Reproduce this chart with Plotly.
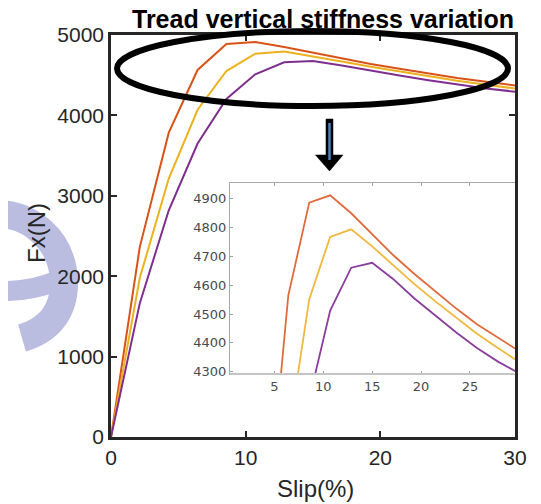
import plotly.graph_objects as go

# ---- data ----
slip = [0, 2.14, 4.29, 6.43, 8.57, 10.71, 12.86, 15, 17.14, 19.29, 21.43, 23.57, 25.71, 27.86, 30]
fx_orange = [0, 2365, 3785, 4565, 4887, 4912, 4850, 4778, 4705, 4640, 4580, 4520, 4465, 4418, 4372]
fx_yellow = [0, 1980, 3215, 4070, 4552, 4768, 4794, 4735, 4670, 4605, 4545, 4487, 4432, 4382, 4334]
fx_purple = [0, 1665, 2820, 3650, 4205, 4512, 4661, 4678, 4622, 4555, 4495, 4437, 4382, 4335, 4295]
series = [("orange", fx_orange, "#D95319"), ("yellow", fx_yellow, "#EDB120"), ("purple", fx_purple, "#7E2F8E")]
inset_colors = ["#E06A3C", "#F0B83C", "#8A3E9C"]

main_xticks = [0, 10, 20, 30]
main_yticks = [0, 1000, 2000, 3000, 4000, 5000]
inset_xticks = [5, 10, 15, 20, 25]
inset_yticks = [4300, 4400, 4500, 4600, 4700, 4800, 4900]

# page has an 8px body margin: figure covers window pixels 8..541 / 8..504
OFF = 8
W, H = 541 - OFF, 504 - OFF
L, R, T, B = 111, 515, 35, 437   # plot area in window pixels


def px(x):
    return (x - L) / (R - L)


def py(y):
    return (B - y) / (B - T)


fig = go.Figure()
for (name, vals, col) in series:
    fig.add_trace(go.Scatter(x=slip, y=vals, mode="lines", line=dict(color=col, width=2),
                             xaxis="x", yaxis="y", showlegend=False, name=name))
for (name, vals, col), c2 in zip(series, inset_colors):
    fig.add_trace(go.Scatter(x=slip, y=vals, mode="lines", line=dict(color=c2, width=1.8),
                             xaxis="x2", yaxis="y2", showlegend=False, name=name + " zoom"))

FONT = "Liberation Sans, Arial, sans-serif"
shapes = []
# watermark
lav = "rgb(186,189,223)"
shapes.append(dict(type="path", xref="paper", yref="paper", layer="below",
                   path="M %f,%f C %f,%f %f,%f %f,%f C %f,%f %f,%f %f,%f" % (
                       px(-8), py(214), px(30), py(212), px(62), py(240), px(64), py(280),
                       px(65), py(310), px(50), py(330), px(22), py(338)),
                   line=dict(color=lav, width=28)))
shapes.append(dict(type="path", xref="paper", yref="paper", layer="below",
                   path="M %f,%f C %f,%f %f,%f %f,%f" % (
                       px(-8), py(291), px(15), py(292), px(35), py(290), px(56), py(281)),
                   line=dict(color=lav, width=20)))
# ellipse
shapes.append(dict(type="circle", xref="paper", yref="paper",
                   x0=px(117), x1=px(508), y0=py(106), y1=py(31),
                   line=dict(color="black", width=6)))
# arrow
shapes.append(dict(type="path", xref="paper", yref="paper",
                   path="M %f,%f L %f,%f L %f,%f L %f,%f L %f,%f L %f,%f L %f,%f Z" % (
                       px(326), py(119), px(333), py(119), px(333), py(155), px(343), py(155),
                       px(329.5), py(171), px(315.5), py(155), px(326), py(155)),
                   fillcolor="black", line=dict(color="black", width=0.5)))
shapes.append(dict(type="line", xref="paper", yref="paper",
                   x0=px(329.5), x1=px(329.5), y0=py(123), y1=py(160),
                   line=dict(color="#4F81BD", width=2.5)))
# inset bottom border (light grey)
shapes.append(dict(type="line", xref="paper", yref="paper",
                   x0=px(230), x1=px(514), y0=py(374), y1=py(374),
                   line=dict(color="#c4c4c4", width=2)))

annotations = [
    dict(text="<b>Tread vertical stiffness variation</b>", xref="paper", yref="paper",
         x=px(323), y=py(19), xanchor="center", yanchor="middle", showarrow=False,
         font=dict(family=FONT, size=25, color="black")),
    dict(text="Slip(%)", xref="paper", yref="paper", x=px(315), y=py(488),
         xanchor="center", yanchor="middle", showarrow=False,
         font=dict(family=FONT, size=24, color="#262626")),
    dict(text="Fx(N)", xref="paper", yref="paper", x=px(36), y=py(233), textangle=-90,
         xanchor="center", yanchor="middle", showarrow=False,
         font=dict(family=FONT, size=24, color="#262626")),
]

axis_main = dict(showgrid=False, zeroline=False, showline=True, linecolor="#262626", linewidth=2.5,
                 mirror="ticks", ticks="inside", ticklen=6, tickwidth=2, tickcolor="#262626",
                 tickfont=dict(family=FONT, size=21, color="#262626"))
axis_inset = dict(showgrid=False, zeroline=False, showline=True, linecolor="#a8a8a8", linewidth=1,
                  ticks="inside", ticklen=3, tickwidth=1, tickcolor="#a0a0a0",
                  tickfont=dict(family="DejaVu Sans, sans-serif", size=13, color="#4a4a4a"))

fig.update_layout(
    width=W, height=H,
    margin=dict(l=L - OFF, r=(W + OFF) - R, t=T - OFF, b=(H + OFF) - B),
    paper_bgcolor="white", plot_bgcolor="white",
    xaxis=dict(range=[0, 30], tickvals=main_xticks, domain=[0, 1], anchor="y", **axis_main),
    yaxis=dict(range=[0, 5000], tickvals=main_yticks, domain=[0, 1], anchor="x", **axis_main),
    xaxis2=dict(range=[0.47, 29.6], tickvals=inset_xticks, domain=[px(230), 1], anchor="y2",
                mirror="ticks", **axis_inset),
    yaxis2=dict(range=[4292, 4955], tickvals=inset_yticks, domain=[py(374), py(183)], anchor="x2",
                **axis_inset),
    shapes=shapes, annotations=annotations,
)

fig.write_html("out.html")
